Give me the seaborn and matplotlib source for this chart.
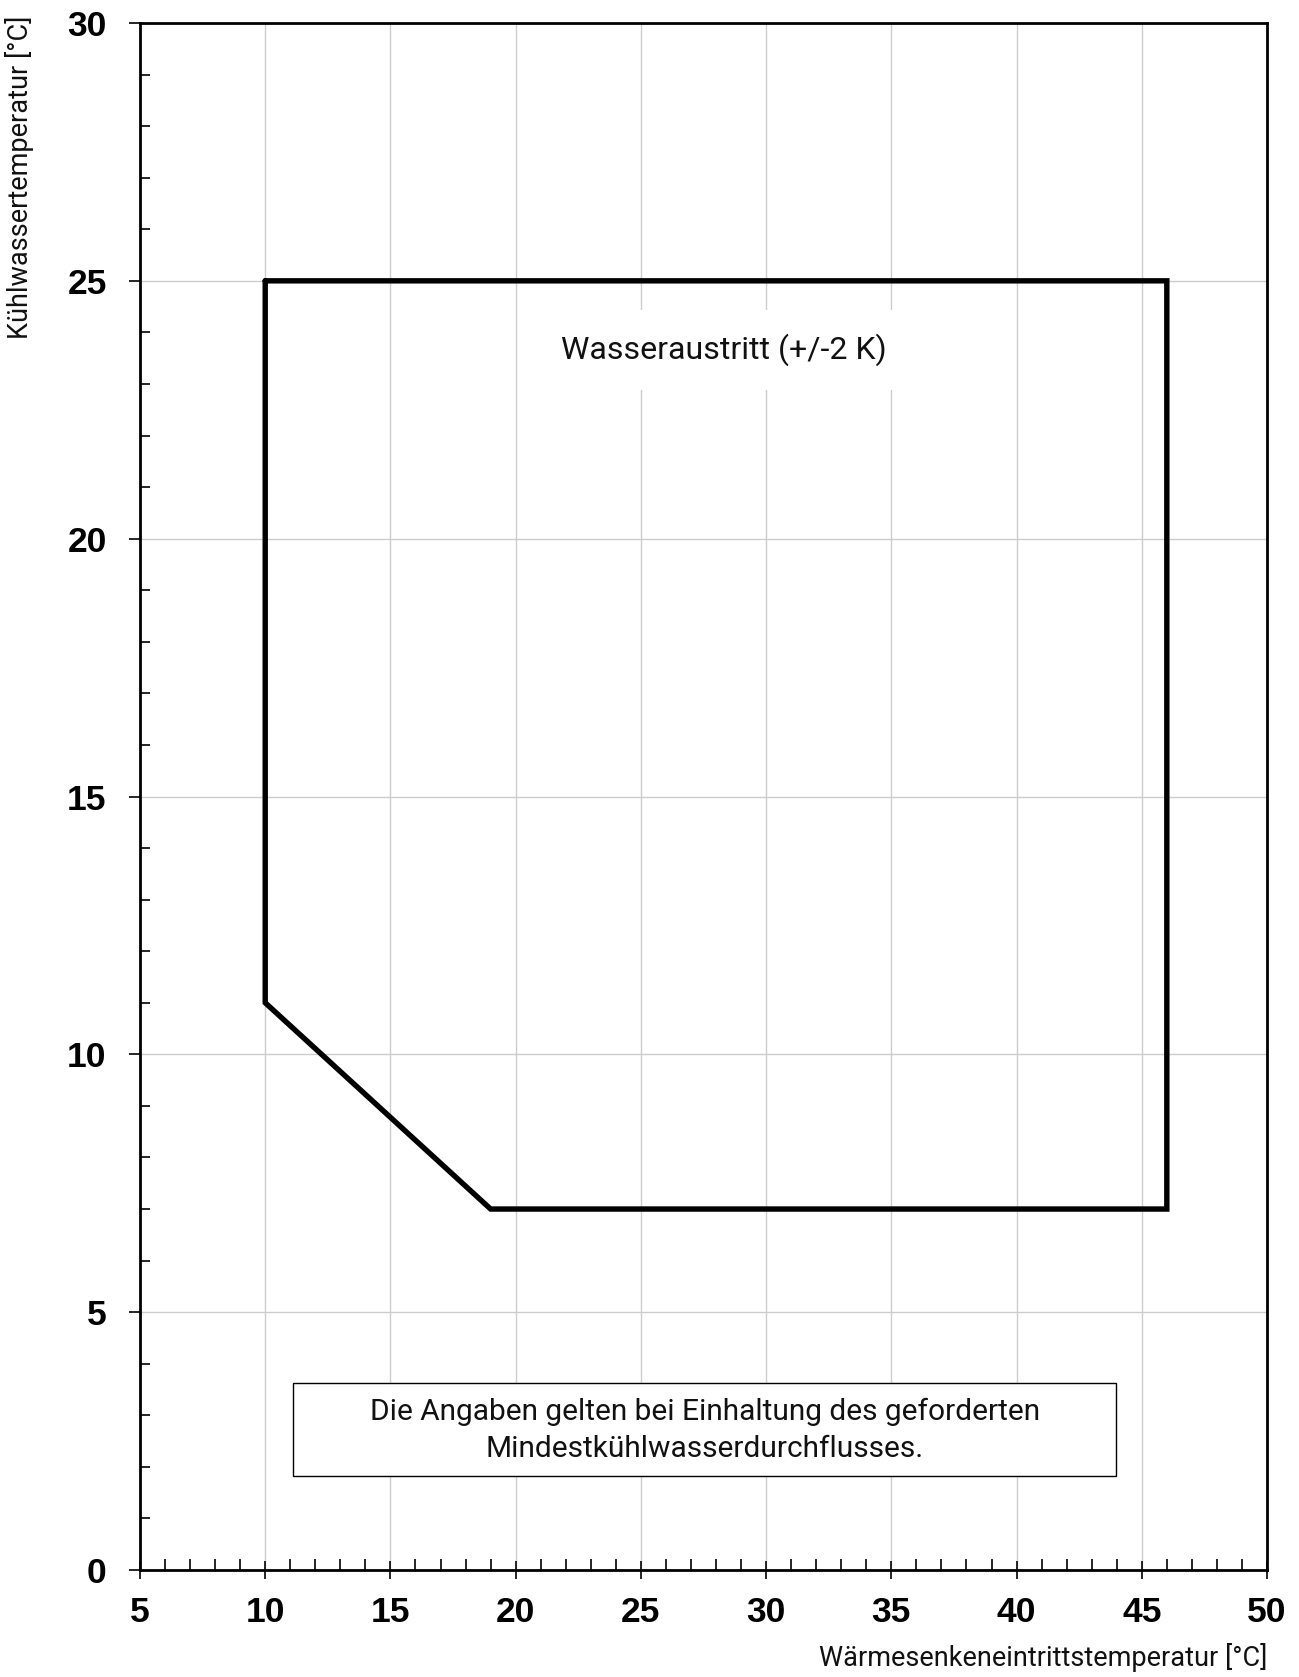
import matplotlib
matplotlib.use("Agg")
import matplotlib.pyplot as plt
from matplotlib.ticker import MultipleLocator
from matplotlib.patches import Rectangle
import seaborn as sns
import pandas as pd

# Operating envelope outline (closed polygon)
sink_inlet_temp = [10, 46, 46, 19, 10, 10]
cooling_water_temp = [25, 25, 7, 7, 11, 25]

x_label = "Wärmesenkeneintrittstemperatur [°C]"
y_label = "Kühlwassertemperatur [°C]"
region_label = "Wasseraustritt (+/-2 K)"
note_text = "Die Angaben gelten bei Einhaltung des geforderten\nMindestkühlwasserdurchflusses."

df = pd.DataFrame({"x": sink_inlet_temp, "y": cooling_water_temp})

sns.set_theme(style="white")
plt.rcParams["font.family"] = ["Liberation Sans", "DejaVu Sans"]

fig = plt.figure(figsize=(12.99, 16.77), dpi=100)
ax = fig.add_axes([140 / 1299, 1 - 1570 / 1677, (1267 - 140) / 1299, (1570 - 23) / 1677])

sns.lineplot(data=df, x="x", y="y", sort=False, estimator=None, color="black",
             linewidth=3.9, ax=ax, zorder=3)
ax.lines[-1].set_solid_joinstyle("miter")

ax.set_xlim(5, 50)
ax.set_ylim(0, 30)

ax.xaxis.set_major_locator(MultipleLocator(5))
ax.xaxis.set_minor_locator(MultipleLocator(1))
ax.yaxis.set_major_locator(MultipleLocator(5))
ax.yaxis.set_minor_locator(MultipleLocator(1))

ax.grid(True, which="major", color="#cccccc", linewidth=1.0, zorder=0)
ax.set_axisbelow(True)

for side in ["left", "bottom", "right", "top"]:
    ax.spines[side].set_color("black")
    ax.spines[side].set_linewidth(2.0)

ax.tick_params(axis="x", which="major", direction="inout", length=13, width=1.2,
               color="black", pad=12, labelsize=25.5)
ax.tick_params(axis="x", which="minor", direction="in", length=8, width=1.2, color="black")
ax.tick_params(axis="y", which="major", direction="out", length=8, width=1.2,
               color="black", pad=16, labelsize=25.5)
ax.tick_params(axis="y", which="minor", direction="in", length=7, width=1.2, color="black")
ax.tick_params(bottom=True, left=True, which="both")

for lab in ax.get_xticklabels() + ax.get_yticklabels():
    lab.set_fontweight("bold")
    lab.set_family(["Liberation Sans", "DejaVu Sans"])
    lab.set_color("black")

ax.set_xlabel(x_label, loc="right", fontsize=19.5, family=["Roboto", "DejaVu Sans"],
              color="#111111")
ax.xaxis.set_label_coords(1.0, -0.047)
ax.set_ylabel(y_label, loc="top", fontsize=19.5, family=["Roboto", "DejaVu Sans"],
              color="#111111")
ax.yaxis.set_label_coords(-0.094, 1.005)

ax.text(28.3, 23.66, region_label, ha="center", va="center", fontsize=23,
        family=["Roboto", "DejaVu Sans"], color="#111111", zorder=2,
        bbox=dict(boxstyle="square,pad=0.75", facecolor="white", edgecolor="none"))

# Framed note near the bottom of the plot area
ax.add_patch(Rectangle((11.11, 1.82), 43.98 - 11.11, 3.63 - 1.82, facecolor="white",
                       edgecolor="black", linewidth=1.0, zorder=4))
ax.text(27.55, 2.71, note_text, ha="center", va="center", fontsize=21.5,
        family=["Roboto", "DejaVu Sans"], color="#111111", linespacing=1.4, zorder=5)

fig.savefig("out.png", dpi=100)
